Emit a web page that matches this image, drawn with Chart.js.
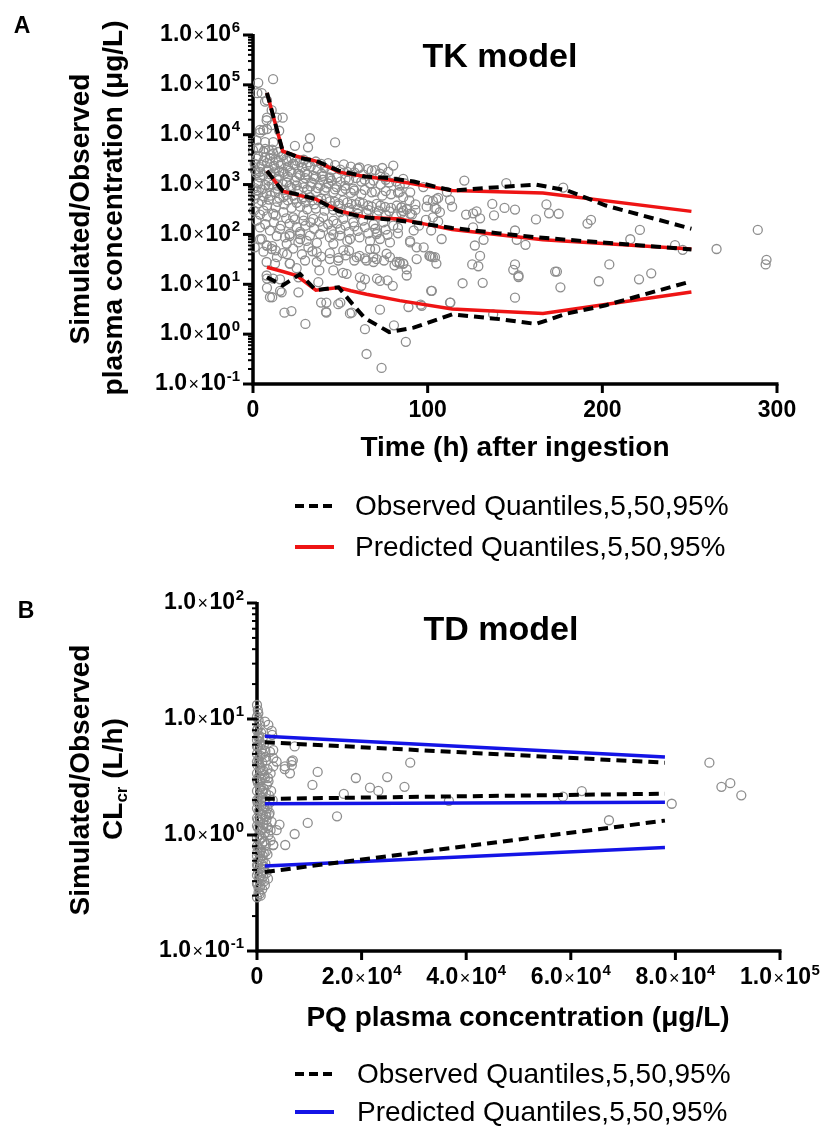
<!DOCTYPE html>
<html>
<head>
<meta charset="utf-8">
<script src="https://cdn.jsdelivr.net/npm/chart.js@4.4.1/dist/chart.umd.min.js"></script>
<style>
  body { margin: 0; background: #fff; width: 825px; height: 1130px; position: relative; overflow: hidden;
         font-family: "Liberation Sans", Arial, sans-serif; color: #000; }
  canvas { position: absolute; left: 0; }
  .c { position: absolute; transform: translate(-50%, -50%); line-height: 1; white-space: nowrap; }
  .r { position: absolute; transform: translate(-50%, -50%) rotate(-90deg); line-height: 1; white-space: nowrap; }
  .b { font-weight: bold; }
  .lg { position: absolute; transform: translateY(-50%); line-height: 1; white-space: nowrap; font-size: 28px; }
  sub { font-size: 17px; vertical-align: -5px; }
</style>
</head>
<body>
<canvas id="tk" width="825" height="590" style="top:0"></canvas>
<canvas id="td" width="825" height="550" style="top:580px"></canvas>

<div class="c b" style="left:22px;top:25px;font-size:23px">A</div>
<div class="c b" style="left:500px;top:55px;font-size:34px">TK model</div>
<div class="r b" style="left:80px;top:209px;font-size:28px">Simulated/Observed</div>
<div class="r b" style="left:113px;top:208px;font-size:28px">plasma concentration (μg/L)</div>
<div class="c b" style="left:515px;top:447px;font-size:28px">Time (h) after ingestion</div>
<div class="lg" style="left:355px;top:506px">Observed Quantiles,5,50,95%</div>
<div class="lg" style="left:355px;top:547px">Predicted Quantiles,5,50,95%</div>

<div class="c b" style="left:26px;top:610px;font-size:23px">B</div>
<div class="c b" style="left:501px;top:628px;font-size:34px">TD model</div>
<div class="r b" style="left:80px;top:780px;font-size:28px">Simulated/Observed</div>
<div class="r b" style="left:114px;top:779px;font-size:28px">CL<sub>cr</sub> (L/h)</div>
<div class="c b" style="left:518px;top:1017px;font-size:28px">PQ plasma concentration (μg/L)</div>
<div class="lg" style="left:357px;top:1074px">Observed Quantiles,5,50,95%</div>
<div class="lg" style="left:357px;top:1112px">Predicted Quantiles,5,50,95%</div>

<script>
// ---- panel A : TK model ----
const tkXTicks = [0, 100, 200, 300];
const tkYTicks = [0.1, 1, 10, 100, 1000, 10000, 100000, 1000000];

const tkObsTime = [8, 17, 27, 36, 49, 57, 64, 78, 92, 114, 141, 162, 180, 202, 251];
const tkObs95 = [69000, 4700, 3400, 3000, 1900, 1650, 1450, 1350, 1150, 760, 890, 1000, 760, 380, 130];
const tkObs50 = [1870, 740, 620, 510, 290, 250, 220, 200, 175, 135, 105, 88, 78, 68, 50];
const tkObs5 = [13.8, 9.5, 16, 7.6, 8.7, 4.0, 2.1, 1.1, 1.35, 2.5, 2.0, 1.6, 2.6, 3.8, 11.5];

const tkPredTime = [8, 17, 25, 36, 49, 56, 65, 84, 114, 166, 251];
const tkPred95 = [69000, 4700, 3700, 2950, 1800, 1600, 1450, 1150, 760, 680, 290];
const tkPred50 = [1870, 740, 620, 510, 300, 260, 220, 205, 125, 78, 51];
const tkPred5 = [22, 18, 15, 7.6, 8.6, 7.4, 6.3, 4.7, 3.2, 2.6, 7.0];

// observed concentrations [time h, ug/L]
const tkPoints = [
  [3,110000],[11.5,130000],[2.5,68000],[5,68000],[8,49000],[6.9,46000],[10.7,31000],[8,22000],[13.7,22000],[17,22000],
  [7.8,19500],[10.7,15500],[4,12500],[8,13000],[15,12000],[5.9,12300],[4,11000],[32.6,8500],[47,7000],[24,6000],
  [31.5,5600],[3,5500],[7,5200],[11,5000],[2,7700],[6.9,7100],[11.6,7100],
  [0,4900],[3,5400],[6,4500],[9,4900],[11.6,4200],[14.5,4500],[17.4,3900],
  [2,3300],[6,3000],[9.7,3300],[14.5,2800],[19.3,3000],[23,2600],[27,2800],[30.7,2400],
  [1,2600],[5,2500],[8,2700],[12,2400],[16,2550],[20,2300],[24,2450],[28,2200],[33,2300],[37,2050],[41,2150],[45,1950],[50,2000],[54,1800],[58,1750],[63,1600],
  [4,2240],[7.8,1900],[12.6,2100],[17.4,1800],[21,1900],[26,1650],[29.8,1800],[34.5,1500],[39.3,1650],[44,1400],
  [60,2100],[68,1900],[72.7,1650],[77.5,1800],[80.3,2400],[75.6,1400],
  [2,1700],[6,1550],[10,1600],[15,1500],[20,1450],[25,1400],[30,1350],[35,1300],[40,1250],[45,1200],[50,1150],[55,1250],[62,1150],[67,1050],[73,1000],[78,1100],
  [4,1400],[8.8,1200],[13.6,1300],[19.3,1100],[24,1200],[28.8,1050],[33.6,1100],[38.4,950],[43.1,1050],[47.9,890],[52.7,950],[57.4,830],
  [1,850],[5,800],[9,900],[14,820],[18,780],[22,860],[26,760],[31,800],[36,720],[41,770],[46,700],[51,740],[56,680],[62,640],[68,700],[74,600],[79,640],[86,560],
  [2,760],[7.8,660],[12.6,710],[17.4,560],[23,600],[28,510],[32.6,560],[37.4,480],[42,510],[47,450],[51.7,480],[56.5,410],[61,450],[66,380],[70.8,410],[75.6,355],[82.3,380],[88,320],
  [3,420],[8,380],[13,350],[18,400],[22,340],[27,360],[31,320],[36,330],[41,300],[46,310],[50,280],[55,290],[60,260],[65,270],[71,240],[76,250],[82,230],[90,260],
  [0.5,300],[6,300],[11.6,260],[17.4,280],[23,220],[28.8,240],[34.5,205],[40.2,220],[46,190],[51.7,205],[57.4,175],[63,190],[69,160],[74.6,175],[80.3,150],
  [2,190],[7,160],[12,175],[16,150],[21,165],[25,140],[30,150],[35,130],[40,140],[45,120],[50,128],[55,112],[60,118],[66,105],[71,110],[77,98],[83,105],[92,120],
  [4,138],[9.7,120],[15.5,129],[21,102],[27,112],[32.6,95],[38.4,102],[44,87],[49.8,95],[55.5,81],[61,87],[67,74],[72.7,81],[78.4,69],
  [3,3700],[7,3500],[10,3900],[13,3300],[16,3550],[19,3200],[22,3400],[25,3000],[29,3150],[32,2800],[36,2900],[39,2600],[43,2700],[47,2450],[52,2550],[56,2300],[61,2200],[66,2050],[70,1950],[74,2150],
  [1,1950],[4,1800],[9,2000],[12,1750],[15,1850],[18,1650],[22,1750],[27,1550],[31,1600],[36,1450],[40,1500],[44,1350],[48,1400],[53,1300],[59,1350],[64,1250],[69,1200],[76,1250],[82,1150],[86,1300],
  [3,1050],[7,980],[11,1000],[14,950],[17,1020],[21,930],[25,960],[29,880],[33,920],[37,850],[42,870],[47,800],[53,820],[58,760],[64,780],[70,720],[76,740],[83,690],[90,700],
  [2,620],[6,580],[10,600],[15,540],[19,620],[24,520],[29,560],[34,480],[39,520],[44,460],[49,420],[54,440],[59,400],[63,420],[68,360],[73,380],[79,340],[85,350],[93,400],
  [1,520],[5,470],[9,500],[14,450],[20,480],[25,430],[30,440],[35,400],[40,410],[45,370],[49,380],[55,340],[60,330],[66,310],[72,300],[78,290],[85,270],
  [4,250],[8,230],[13,240],[19,210],[24,200],[29,190],[33,175],[38,180],[43,160],[48,165],[53,150],[58,145],[64,140],[70,130],[76,125],[83,135],[95,150],
  [4,80],[13.6,93],[18.3,87],[26.9,102],[30.7,74],[21,93],[27,81],[36.6,68],[46,100],[54,74],[70.8,102],[89.9,74],
  [5,81],[7.8,60],[10.7,51],[19.3,65],[26,69],[31.7,55],[36.5,44],[46,65],[51.7,48],[61,37],[68.9,35],[76.5,41],[82.3,28],[86,26],[93.7,55],[101.3,37],[104.2,35],[108,81],
  [1,55],[6,45],[13,48],[17,42],[23,52],[28,40],[34,46],[39,36],[44,42],[49,34],[53,38],[58,30],[64,33],[69,28],[75,30],[81,24],[88,20],
  [8,60],[11,58],[13.7,35],[19.5,40],[55,47],[67,51],[70,51],
  [7.8,28],[12.6,26],[21.2,26],[29.8,30],[36.5,28],[44,32],[48.8,30],[59.4,35],[65,30],[70.8,32],[78.4,35],[84,28],[93.7,32],
  [21,26],[25,21],[38,19],[46,19],[51.5,17],[7.8,15],[15.5,12.6],[26,13.8],[53.6,16.2],[61.2,13.8],[64.1,12.6],[72.7,11.7],
  [8,13],[11.5,13],[71,13],[77,12],[80,9.3],[62,9.3],[88,15],[37.4,11],
  [15.5,7.4],[8,8.5],[11,5.5],[9.7,5.5],[16.4,6.9],[26,6.9],[42,4.3],[48.8,4.0],[39,4.3],[50,4.3],[102.4,7.4],[112.8,4.3],[96.6,3.7],
  [18,2.7],[22,2.9],[30,1.6],[41.8,2.8],[42,2.7],[55.5,2.6],[56.5,2.7],[64.1,1.26],[72.7,3.1],[80.7,1.5],
  [65,0.4],[73.6,0.21],[87.5,0.7],
  [121,1200],[145,1070],[177.6,870],[137,410],[144,340],[150,315],[122,250],[126,265],[128,290],[130,210],[138,240],
  [168,400],[169.5,265],[175,260],[162,200],[191.5,165],[193.5,195],[221.5,123],[216,80],[241.6,61],[246,49],[265.4,51],
  [289,123],[294,31],[293.5,25],[150,120],[151,78],[156,62],[126,138],[127,60],[132,78],[130,37],[129,23],[125.5,25],
  [105,26],[102,36],[101,37],[103,35],[97.7,55],[90,69],[150,25],[149,19.5],[152,15],[152,14],[173,18],[174,18],[176,8.7],
  [204,25],[198,11.5],[221,12.6],[228,16.6],[120,10.5],[131.5,10.7],[102,7.4],[113,4.3],[89,3.5],[96,3.9],[150,5.4],[137.5,2.5],
  [84,26],[86,26],
  [87,1050],[84,710],[89.5,480],[100,490],[103,470],[106,540],[112.8,490],[114,360],[104,340],[107,280],[85,350],[86,295],
  [93,310],[91,250],[111,710],[103,220],[106,180],[99,195],[102,120],[84,950],[97.5,890],[105,510],[99.4,360],[105,325]
];

// ---- panel B : TD model ----
const tdXTicks = [0, 20000, 40000, 60000, 80000, 100000];
const tdYTicks = [0.1, 1, 10, 100];

const tdQuantX = [1500, 78000];
const tdObs95 = [6.3, 4.2];
const tdObs50 = [2.05, 2.27];
const tdObs5 = [0.48, 1.33];
const tdPred95 = [7.1, 4.7];
const tdPred50 = [1.86, 1.92];
const tdPred5 = [0.54, 0.78];

// observed CLcr ratio [PQ ug/L, ratio]
const tdPoints = [
  [0,13.2],[250,11.2],[1530,9.5],[2170,8.9],[2800,7.9],[0,10.5],[300,9.8],[600,8.8],[150,8.2],[800,7.6],[400,7.2],[1100,6.9],
  [0,6.6],[500,6.3],[1300,6.0],[200,5.8],[900,5.5],[1600,5.3],[2500,5.2],[3100,5.4],[3100,4.6],[3750,4.3],[3100,3.9],
  [0,5.0],[700,4.8],[300,4.5],[1000,4.2],[1800,4.4],[100,4.0],[600,3.8],[1200,3.6],[2000,3.7],[2600,3.4],[0,3.4],[400,3.2],
  [900,3.0],[1500,3.1],[2200,2.9],[200,2.8],[700,2.6],[1300,2.5],[1900,2.7],[2700,2.4],[0,2.4],[500,2.2],[1000,2.1],[1600,2.0],
  [2300,2.2],[3000,2.0],[100,1.9],[800,1.8],[1400,1.75],[2000,1.7],[300,1.6],[1100,1.5],[1700,1.45],[2400,1.55],[0,1.4],[600,1.3],
  [1200,1.25],[1900,1.2],[2800,1.3],[200,1.15],[900,1.1],[1500,1.05],[2200,1.0],[0,0.95],[500,0.9],[1000,0.85],[1700,0.82],
  [2600,0.9],[3100,0.82],[300,0.78],[800,0.74],[1300,0.7],[2000,0.68],[0,0.66],[600,0.62],[1100,0.6],[1600,0.57],[200,0.55],
  [700,0.52],[1200,0.5],[1800,0.47],[0,0.45],[400,0.43],[900,0.41],[1400,0.4],[100,0.38],[600,0.36],[1000,0.34],[300,0.32],
  [700,0.3],[0,0.29],[500,0.31],[1500,0.37],[2100,0.42],[0,8.0],[0,5.8],[0,4.3],[0,3.0],[0,2.0],[0,1.7],[0,1.2],[0,0.8],
  [0,0.55],[0,0.38],[150,12.0],[400,6.8],[800,3.4],[1100,2.4],[1400,1.9],[1800,1.35],[2300,1.5],[2600,1.1],
  [200,7.0],[700,6.0],[1200,5.0],[1700,4.7],[400,4.1],[900,3.6],[1400,3.3],[2100,3.1],[100,2.9],[600,2.5],[1100,2.3],[1700,2.3],
  [2400,1.9],[300,2.0],[800,1.95],[1300,1.65],[1800,1.55],[200,1.35],[700,1.4],[1200,1.15],[2100,1.15],[400,1.0],[900,0.95],
  [1400,0.88],[100,0.72],[600,0.7],[1100,0.66],[1700,0.72],[300,0.6],[900,0.56],[1400,0.53],[200,0.48],[800,0.45],[500,0.4],
  [1200,0.44],[300,0.35],
  [5300,3.7],[6300,3.4],[6650,4.0],[6850,4.4],[10600,2.7],[11600,3.5],[9700,1.27],[7200,1.02],[5400,0.82],[15300,1.45],
  [16600,2.26],[18900,3.1],[21600,2.56],[23200,2.4],[24900,3.16],[28200,2.6],[29300,4.2],[36700,1.97],[58500,2.14],
  [62100,2.39],[67300,1.34],[79300,1.86],[86500,4.2],[88800,2.6],[90500,2.8],[92600,2.2],[7200,5.8],[2900,7.3],
  [5350,3.9],[6600,4.3],[4300,1.23],[3750,1.1],[3100,0.82]
];

const FONT = '"Liberation Sans", Arial, sans-serif';

const toXY = (xs, ys) => xs.map((x, i) => ({ x: x, y: ys[i] }));

const dashLine = (data) => ({
  data, showLine: true, pointRadius: 0, borderColor: '#000', borderWidth: 4,
  borderDash: [10, 6], fill: false, order: 1, clip: false
});
const solidLine = (data, color) => ({
  data, showLine: true, pointRadius: 0, borderColor: color, borderWidth: 3.5,
  fill: false, order: 2, clip: false
});
const dots = (pts) => ({
  data: pts.map(p => ({ x: p[0], y: p[1] })), pointRadius: 4.5, pointStyle: 'circle',
  borderColor: '#8e8e8e', backgroundColor: 'rgba(0,0,0,0)', borderWidth: 1.3, order: 3, clip: false
});

// label like 1.0x10^5 drawn piece by piece
function drawSci(ctx, v, x, y, align) {
  ctx.textBaseline = 'middle';
  ctx.textAlign = 'left';
  if (v === 0) {
    ctx.font = 'bold 23px ' + FONT;
    const w0 = ctx.measureText('0').width;
    ctx.fillText('0', align === 'right' ? x - w0 : x - w0 / 2, y);
    return;
  }
  const e = Math.floor(Math.log10(v) + 1e-9);
  const parts = [
    [(v / Math.pow(10, e)).toFixed(1), 'bold 23px ' + FONT, 0, 1.5],
    ['\u00d7', '18px ' + FONT, 1, 1.5],
    ['10', 'bold 23px ' + FONT, 0, 0.5],
    [String(e), 'bold 15px ' + FONT, -7.5, 0]
  ];
  let total = 0;
  parts.forEach(p => { ctx.font = p[1]; p.push(ctx.measureText(p[0]).width); total += p[4] + p[3]; });
  let cx = align === 'right' ? x - total : x - total / 2;
  parts.forEach(p => {
    ctx.font = p[1];
    ctx.fillText(p[0], cx, y + p[2]);
    cx += p[4] + p[3];
  });
}

const axisPlugin = {
  id: 'axisDeco',
  beforeDatasetsDraw(chart, args, opts) {
    const ctx = chart.ctx, a = chart.chartArea;
    ctx.save();
    ctx.strokeStyle = '#000';
    ctx.lineWidth = 3.5;
    ctx.beginPath();
    ctx.moveTo(a.left, a.top - 1);
    ctx.lineTo(a.left, a.bottom);
    ctx.lineTo(a.right + 1.5, a.bottom);
    ctx.stroke();
    ctx.restore();
  },
  afterDraw(chart, args, opts) {
    const ctx = chart.ctx, a = chart.chartArea;
    const xs = chart.scales.x, ys = chart.scales.y;
    ctx.save();
    ctx.strokeStyle = '#000';
    ctx.fillStyle = '#000';
    // minor log ticks
    ctx.lineWidth = 2;
    opts.yTicks.slice(0, -1).forEach(d => {
      for (let k = 2; k <= 9; k++) {
        const py = ys.getPixelForValue(d * k);
        ctx.beginPath(); ctx.moveTo(a.left - 5, py); ctx.lineTo(a.left, py); ctx.stroke();
      }
    });
    // major y ticks + labels
    ctx.lineWidth = 3;
    opts.yTicks.forEach(v => {
      const py = ys.getPixelForValue(v);
      ctx.beginPath(); ctx.moveTo(a.left - 10, py); ctx.lineTo(a.left, py); ctx.stroke();
      drawSci(ctx, v, a.left - 13, py, 'right');
    });
    // x ticks + labels
    opts.xTicks.forEach(v => {
      const px = xs.getPixelForValue(v);
      ctx.beginPath(); ctx.moveTo(px, a.bottom); ctx.lineTo(px, a.bottom + 9); ctx.stroke();
      if (opts.xSci) {
        drawSci(ctx, v, px, a.bottom + 27, 'center');
      } else {
        ctx.font = 'bold 23px ' + FONT;
        ctx.textAlign = 'center';
        ctx.textBaseline = 'middle';
        ctx.fillText(String(v), px, a.bottom + 27);
      }
    });
    // legend samples
    ctx.lineWidth = 4;
    ctx.setLineDash([9, 5]);
    ctx.beginPath(); ctx.moveTo(295, opts.legendY[0]); ctx.lineTo(334, opts.legendY[0]); ctx.stroke();
    ctx.setLineDash([]);
    ctx.strokeStyle = opts.predColor;
    ctx.beginPath(); ctx.moveTo(295, opts.legendY[1]); ctx.lineTo(334, opts.legendY[1]); ctx.stroke();
    ctx.restore();
  }
};

const makeOptions = (xMax, yMin, yMax, pad, deco) => ({
  responsive: false,
  animation: false,
  layout: { padding: pad },
  plugins: { legend: { display: false }, tooltip: { enabled: false }, axisDeco: deco },
  scales: {
    x: { type: 'linear', min: 0, max: xMax, grid: { display: false }, border: { display: false },
         ticks: { display: false }, afterFit: s => { s.height = 40; } },
    y: { type: 'logarithmic', min: yMin, max: yMax, grid: { display: false }, border: { display: false },
         ticks: { display: false }, afterFit: s => { s.width = pad.yWidth; } }
  }
});

const RED = '#ee1414';
const BLUE = '#1414e6';

new Chart(document.getElementById('tk'), {
  type: 'scatter',
  data: {
    datasets: [
      dashLine(toXY(tkObsTime, tkObs95)),
      dashLine(toXY(tkObsTime, tkObs50)),
      dashLine(toXY(tkObsTime, tkObs5)),
      solidLine(toXY(tkPredTime, tkPred95), RED),
      solidLine(toXY(tkPredTime, tkPred50), RED),
      solidLine(toXY(tkPredTime, tkPred5), RED),
      dots(tkPoints)
    ]
  },
  options: makeOptions(300, 0.1, 1000000,
    { left: 0, right: 48, top: 35, bottom: 166, yWidth: 253 },
    { xTicks: tkXTicks, yTicks: tkYTicks, xSci: false, legendY: [506, 547], predColor: RED }),
  plugins: [axisPlugin]
});

new Chart(document.getElementById('td'), {
  type: 'scatter',
  data: {
    datasets: [
      dashLine(toXY(tdQuantX, tdObs95)),
      dashLine(toXY(tdQuantX, tdObs50)),
      dashLine(toXY(tdQuantX, tdObs5)),
      solidLine(toXY(tdQuantX, tdPred95), BLUE),
      solidLine(toXY(tdQuantX, tdPred50), BLUE),
      solidLine(toXY(tdQuantX, tdPred5), BLUE),
      dots(tdPoints)
    ]
  },
  options: makeOptions(100000, 0.1, 100,
    { left: 0, right: 45, top: 23, bottom: 139, yWidth: 257 },
    { xTicks: tdXTicks, yTicks: tdYTicks, xSci: true, legendY: [494, 532], predColor: BLUE }),
  plugins: [axisPlugin]
});
</script>
</body>
</html>
